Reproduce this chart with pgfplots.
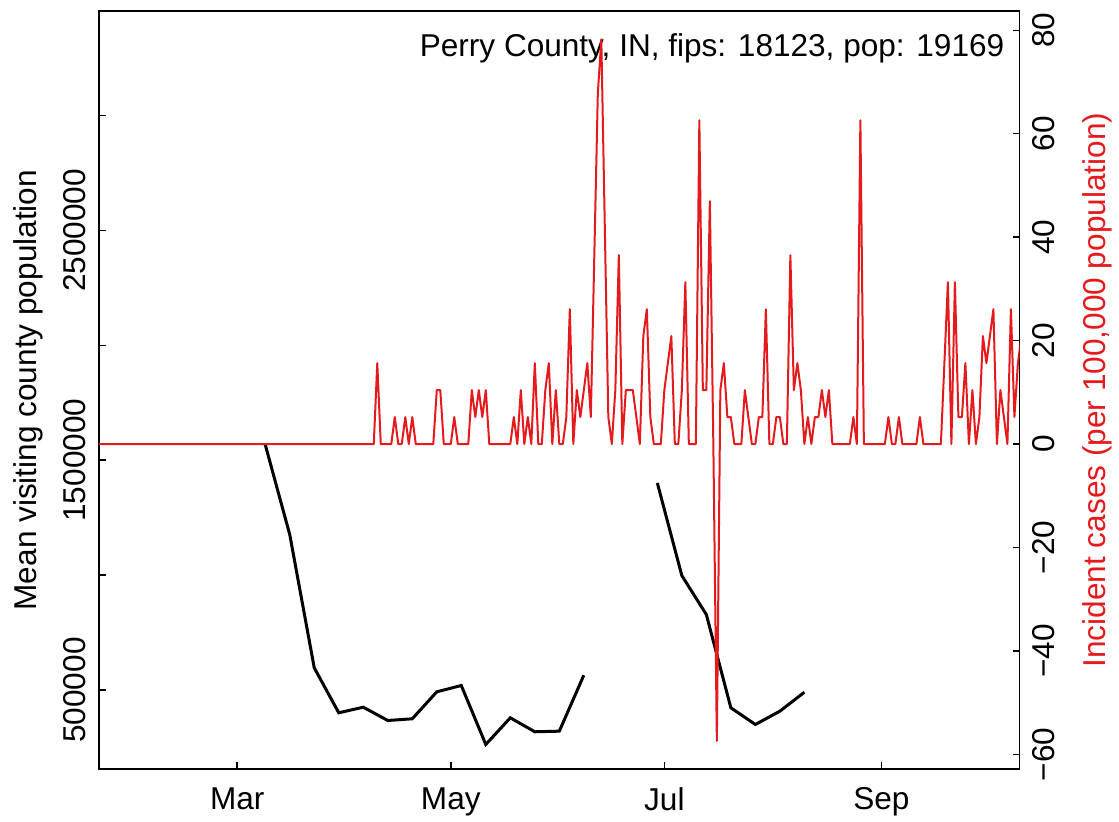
\documentclass[border=0pt]{standalone}
\usepackage{fontspec}
\setmainfont{Liberation Sans}
\usepackage{pgfplots}
\pgfplotsset{compat=1.18}
\definecolor{casered}{HTML}{E41A1C}

\newcommand{\rfont}{\fontsize{15.85}{19}\selectfont}

\begin{document}
\begin{tikzpicture}
\pgfplotsset{
  every axis/.append style={
    scale only axis,
    width=460.5bp, height=379bp,
    xmin=21.5, xmax=284.5,
    tick align=inside,
    major tick length=3.5bp,
    axis line style={line width=0.75bp},
    every tick/.style={black, line width=0.75bp},
    tick label style={font=\rfont},
  },
}

% mean visiting county population (weekly), left axis
\begin{axis}[
    clip=false,
    xtick pos=bottom, ytick pos=left,
    xtick={61,122,183,245},
    xticklabels={Mar,May,Jul,Sep},
    xticklabel style={anchor=north, inner sep=0pt},
    xticklabel shift=9bp,
    ymin=156500, ymax=3453500,
    scaled y ticks=false,
    ytick={500000,1000000,1500000,2000000,2500000,3000000},
    yticklabels={500000,,1500000,,2500000,},
    yticklabel style={rotate=90, anchor=south, inner sep=0pt},
    yticklabel shift=6.3bp,
    every axis y label/.style={at={(axis description cs:-0.0771,0.5)}, rotate=90, anchor=center, font=\rfont},
    ylabel={Mean visiting county population},
]
\addplot[black, line width=1.5bp] coordinates {
  (69,1567400) (76,1176100) (83,596500) (90,400900) (97,425200)
  (104,367400) (111,374800) (118,492200) (125,519600) (132,263000)
  (139,379100) (146,318300) (153,320900) (160,564300)
};
\addplot[black, line width=1.5bp] coordinates {
  (181,1400900) (188,997800) (195,828300) (202,422600)
  (209,350000) (216,407800) (223,490400)
};
\node[anchor=north east, inner sep=0pt, font=\rfont] at (rel axis cs:0.9837,0.971)
  {Perry County, IN, fips: 18123, pop: 19169};
\path (rel axis cs:-0.1075,-0.0693) rectangle (rel axis cs:1.1075,1.0148);
\end{axis}

% daily incident cases per 100,000, right axis
\begin{axis}[
    axis x line=none,
    axis y line*=right,
    ymin=-62.81, ymax=83.68,
    ytick={-60,-40,-20,0,20,40,60,80},
    yticklabels={−60,−40,−20,0,20,40,60,80},
    yticklabel style={rotate=90, anchor=north, inner sep=0pt},
    yticklabel shift=6.3bp,
    every axis y label/.style={at={(axis description cs:1.0847,0.5)}, rotate=90, anchor=center, text=casered, font=\rfont},
    ylabel={Incident cases (per 100,000 population)},
]
\addplot[casered, line width=1bp, line join=round] coordinates {
  (21,0) (22,0) (23,0) (24,0) (25,0) (26,0) (27,0) (28,0) (29,0) (30,0)
  (31,0) (32,0) (33,0) (34,0) (35,0) (36,0) (37,0) (38,0) (39,0) (40,0)
  (41,0) (42,0) (43,0) (44,0) (45,0) (46,0) (47,0) (48,0) (49,0) (50,0)
  (51,0) (52,0) (53,0) (54,0) (55,0) (56,0) (57,0) (58,0) (59,0) (60,0)
  (61,0) (62,0) (63,0) (64,0) (65,0) (66,0) (67,0) (68,0) (69,0) (70,0)
  (71,0) (72,0) (73,0) (74,0) (75,0) (76,0) (77,0) (78,0) (79,0) (80,0)
  (81,0) (82,0) (83,0) (84,0) (85,0) (86,0) (87,0) (88,0) (89,0) (90,0)
  (91,0) (92,0) (93,0) (94,0) (95,0) (96,0) (97,0) (98,0) (99,0) (100,0)
  (101,15.65) (102,0) (103,0) (104,0) (105,0) (106,5.22) (107,0) (108,0)
  (109,5.22) (110,0) (111,5.22) (112,0) (113,0) (114,0) (115,0) (116,0)
  (117,0) (118,10.43) (119,10.43) (120,0) (121,0) (122,0) (123,5.22)
  (124,0) (125,0) (126,0) (127,0) (128,10.43) (129,5.22) (130,10.43)
  (131,5.22) (132,10.43) (133,0) (134,0) (135,0) (136,0) (137,0) (138,0)
  (139,0) (140,5.22) (141,0) (142,10.43) (143,0) (144,5.22) (145,0)
  (146,15.65) (147,0) (148,0) (149,10.43) (150,15.65) (151,0) (152,10.43)
  (153,0) (154,0) (155,5.22) (156,26.08) (157,0) (158,10.43) (159,5.22)
  (160,10.43) (161,15.65) (162,5.22) (163,36.52) (164,67.82) (165,78.25)
  (166,41.73) (167,5.22) (168,0) (169,10.43) (170,36.52) (171,0)
  (172,10.43) (173,10.43) (174,10.43) (175,5.22) (176,0) (177,20.87)
  (178,26.08) (179,5.22) (180,0) (181,0) (182,0) (183,10.43) (184,15.65)
  (185,20.87) (186,0) (187,0) (188,10.43) (189,31.30) (190,0) (191,0)
  (192,0) (193,62.60) (194,10.43) (195,10.43) (196,46.95) (197,0)
  (198,-57.38) (199,10.43) (200,15.65) (201,5.22) (202,5.22) (203,0)
  (204,0) (205,0) (206,10.43) (207,5.22) (208,0) (209,0) (210,5.22)
  (211,5.22) (212,26.08) (213,0) (214,0) (215,5.22) (216,5.22) (217,0)
  (218,0) (219,36.52) (220,10.43) (221,15.65) (222,10.43) (223,0)
  (224,5.22) (225,0) (226,5.22) (227,5.22) (228,10.43) (229,5.22)
  (230,10.43) (231,0) (232,0) (233,0) (234,0) (235,0) (236,0) (237,5.22)
  (238,0) (239,62.60) (240,0) (241,0) (242,0) (243,0) (244,0) (245,0)
  (246,0) (247,5.22) (248,0) (249,0) (250,5.22) (251,0) (252,0) (253,0)
  (254,0) (255,0) (256,5.22) (257,0) (258,0) (259,0) (260,0) (261,0)
  (262,0) (263,15.65) (264,31.30) (265,0) (266,31.30) (267,5.22)
  (268,5.22) (269,15.65) (270,0) (271,10.43) (272,0) (273,5.22)
  (274,20.87) (275,15.65) (276,20.87) (277,26.08) (278,0) (279,10.43)
  (280,5.22) (281,0) (282,26.08) (283,5.22) (284,15.65) (285,20.87)
};
\end{axis}
\end{tikzpicture}
\end{document}
